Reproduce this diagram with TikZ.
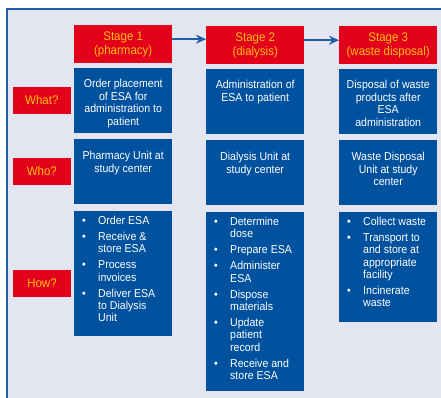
\documentclass[tikz,border=0pt]{standalone}
\usepackage{fontspec}
\setmainfont{Liberation Sans}[FakeStretch=0.92]
\usetikzlibrary{positioning,arrows.meta}
\definecolor{esablue}{HTML}{00519E}
\definecolor{esared}{HTML}{E2001A}
\definecolor{esayellow}{HTML}{FFC20E}
\definecolor{panel}{HTML}{E3E5F0}
\definecolor{frameblue}{HTML}{1F5FA8}

% cell body: height, top padding, text
\newcommand{\cellbox}[3]{\vbox to #1{\hsize=98pt\parindent=0pt\vskip#2\relax #3\par\vfil}}
\newcommand{\nl}{\hfil\break}
\newcommand{\itm}[1]{\par\hangindent=24pt\hangafter=1\noindent
  \hbox to 24pt{\hskip8pt\textbullet\hfil}#1\par\vskip3.6pt}

\begin{document}
\begin{tikzpicture}[x=1pt, y=-1pt,
    font=\fontsize{11.5}{12.4}\selectfont,
    stage/.style={fill=esared, text=esayellow, minimum width=98pt, minimum height=38pt,
                  inner sep=0pt, align=center, anchor=north west,
                  font=\fontsize{12.5}{14}\selectfont},
    ask/.style={fill=esared, text=esayellow, minimum width=58pt, minimum height=27pt,
                inner sep=0pt, font=\fontsize{12.5}{14}\selectfont},
    cell/.style={fill=esablue, text=white, inner sep=0pt},
    flow/.style={-{Stealth[length=10pt,width=9pt]}, draw=frameblue, line width=1.5pt},
    node distance=4pt]
  \useasboundingbox (0,0) rectangle (441,398);
  \fill[panel] (7,9) rectangle (441,398);
  \draw[frameblue, line width=2pt] (7,398) -- (7,9) -- (441,9);

  % stages
  \node[stage] (s1) at (74,25) {Stage 1\\(pharmacy)};
  \node[stage] (s2) at (206,26) {Stage 2\\(dialysis)};
  \node[stage] (s3) at (339,26) {Stage 3\\(waste disposal)};

  % what
  \node[cell, below=4pt of s1] (what1) {\cellbox{65pt}{12pt}{\centering Order placement\\ of ESA for\\ administration to\\ patient}};
  \node[cell, below=4pt of s2] (what2) {\cellbox{65pt}{12pt}{\centering Administration of\\ ESA to patient}};
  \node[cell, below=4pt of s3] (what3) {\cellbox{65pt}{12pt}{\centering Disposal of waste\\ products after\\ ESA\\ administration}};

  % who
  \node[cell, below=6pt of what1] (who1) {\cellbox{65pt}{12.5pt}{\centering Pharmacy Unit at\\ study center}};
  \node[cell, below=6pt of what2] (who2) {\cellbox{65pt}{12.5pt}{\centering Dialysis Unit at\\ study center}};
  \node[cell, below=6pt of what3] (who3) {\cellbox{65pt}{12.5pt}{\centering Waste Disposal\\ Unit at study\\ center}};

  % how
  \node[cell, below=7pt of who1] (how1) {\cellbox{125pt}{4.5pt}{\raggedright
      \itm{Order ESA}\itm{Receive \&\nl store ESA}\itm{Process\nl invoices}
      \itm{Deliver ESA\nl to Dialysis\nl Unit}}};
  \node[cell, below=7pt of who2] (how2) {\cellbox{179pt}{4.5pt}{\raggedright
      \itm{Determine\nl dose}\itm{Prepare ESA}\itm{Administer\nl ESA}
      \itm{Dispose\nl materials}\itm{Update\nl patient\nl record}
      \itm{Receive and\nl store ESA}}};
  \node[cell, below=7pt of who3] (how3) {\cellbox{110pt}{4.5pt}{\raggedright
      \itm{Collect waste}\itm{Transport to\nl and store at\nl appropriate\nl facility}
      \itm{Incinerate\nl waste}}};

  % row questions
  \node[ask, left=3pt of what1] (qwhat) {What?};
  \node[ask, left=3pt of who1] (qwho) {Who?};
  \node[ask] (qhow) at (42,283.5) {How?};

  \draw[flow] ([yshift=5pt]s1.east) -- ([yshift=5pt]s1.east -| s2.west);
  \draw[flow] ([yshift=5pt]s2.east) -- ([yshift=5pt]s2.east -| s3.west);
\end{tikzpicture}
\end{document}
